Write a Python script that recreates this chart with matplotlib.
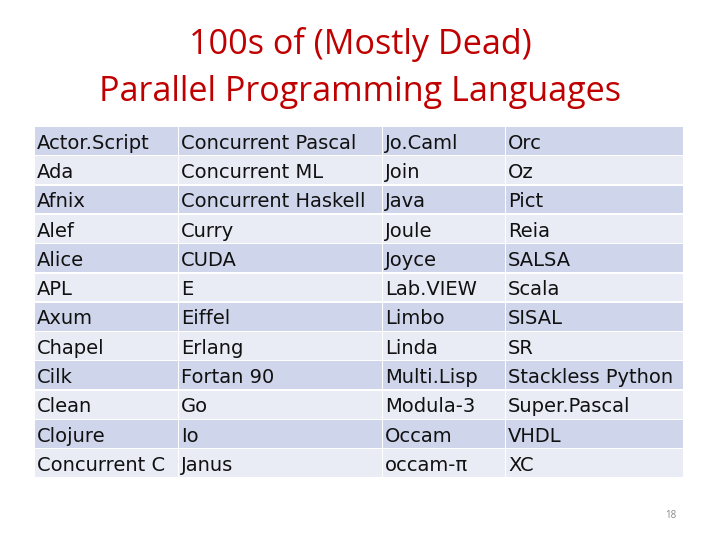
import matplotlib
matplotlib.use("Agg")
import matplotlib.pyplot as plt
from matplotlib.patches import Rectangle

title_lines = ["100s of (Mostly Dead)", "Parallel Programming Languages"]
col1 = ["Actor.Script", "Ada", "Afnix", "Alef", "Alice", "APL", "Axum", "Chapel", "Cilk", "Clean", "Clojure", "Concurrent C"]
col2 = ["Concurrent Pascal", "Concurrent ML", "Concurrent Haskell", "Curry", "CUDA", "E", "Eiffel", "Erlang", "Fortan 90", "Go", "Io", "Janus"]
col3 = ["Jo.Caml", "Join", "Java", "Joule", "Joyce", "Lab.VIEW", "Limbo", "Linda", "Multi.Lisp", "Modula-3", "Occam", "occam-π"]
col4 = ["Orc", "Oz", "Pict", "Reia", "SALSA", "Scala", "SISAL", "SR", "Stackless Python", "Super.Pascal", "VHDL", "XC"]
columns = [col1, col2, col3, col4]
page_number = "18"

fig = plt.figure(figsize=(7.2, 5.4), dpi=100)
ax = fig.add_axes([0, 0, 1, 1])
ax.set_xlim(0, 720); ax.set_ylim(540, 0); ax.axis("off")

fam = ["Open Sans", "DejaVu Sans"]
ax.text(360, 45, title_lines[0], ha="center", va="center", fontsize=24.6, color="#C00000", family=fam)
ax.text(360, 92, title_lines[1], ha="center", va="center", fontsize=24.6, color="#C00000", family=fam)

col_x = [35, 179, 383, 506]
col_end = 684
top, rh = 127, 29.3
colors = ["#CFD5EA", "#E9EBF5"]
for ci, col in enumerate(columns):
    x0 = col_x[ci]
    x1 = col_x[ci + 1] if ci + 1 < len(col_x) else col_end
    for ri, name in enumerate(col):
        y0 = top + ri * rh
        ax.add_patch(Rectangle((x0, y0), x1 - x0 - 1.5, rh - 1.5, facecolor=colors[ri % 2], edgecolor="none"))
        ax.text(x0 + 2, y0 + rh / 2 + 1.5, name, ha="left", va="center", fontsize=14, color="#111111",
                family="DejaVu Sans", stretch="normal")

ax.text(676, 515, page_number, ha="right", va="center", fontsize=7, color="#888888", family=fam)
fig.savefig("out.png", dpi=100, facecolor="white")
